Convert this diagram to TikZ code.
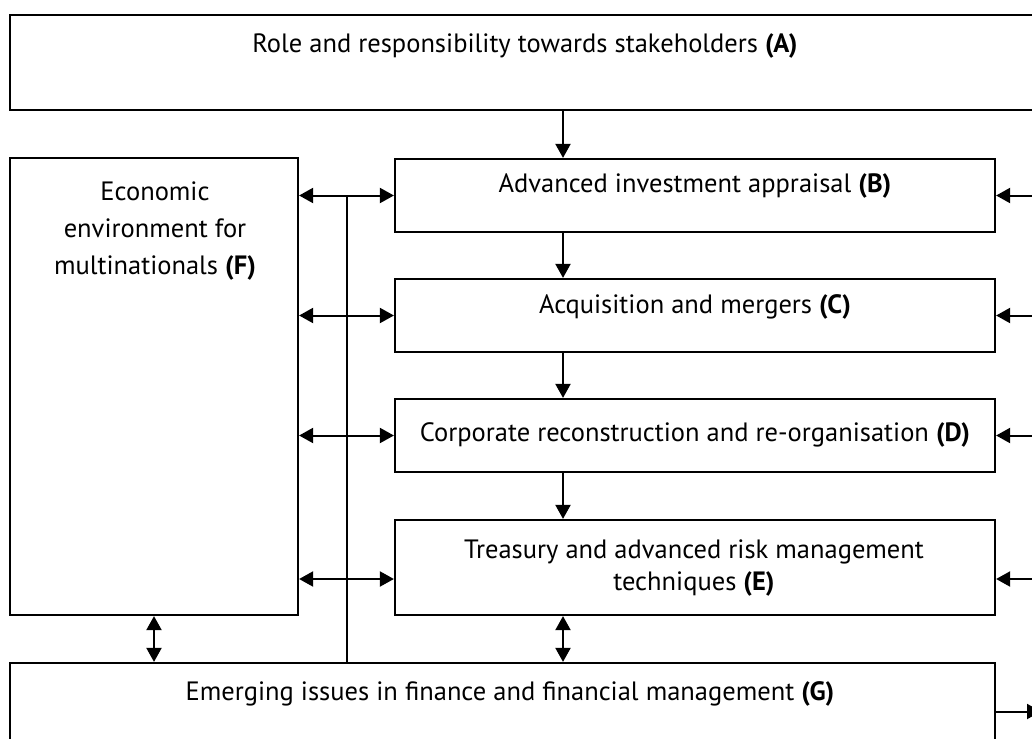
\documentclass[tikz,border=0pt]{standalone}
\usepackage{fontspec}
\setmainfont{PT Sans}
\usetikzlibrary{arrows.meta,calc}
\begin{document}
\begin{tikzpicture}[x=1pt,y=-1pt,
  box/.style={draw,line width=2.2pt,rectangle,inner sep=0pt},
  txt/.style={anchor=base,inner sep=0pt,font=\fontsize{26.5}{35}\selectfont,align=center},
  tip/.tip={Triangle[length=14pt,width=15pt]},
  arr/.style={line width=2pt,-tip},
  darr/.style={line width=2pt,tip-tip},
  ln/.style={line width=2pt}]
\useasboundingbox (0,0) rectangle (1032,738);
% boxes
\node[box,minimum width=1035pt,minimum height=95pt] (A) at (527.5,62.5) {};
\node[box,minimum width=600pt,minimum height=73pt] (B) at (695,195.5) {};
\node[box,minimum width=600pt,minimum height=73pt] (C) at (695,315.5) {};
\node[box,minimum width=600pt,minimum height=73pt] (D) at (695,435.5) {};
\node[box,minimum width=600pt,minimum height=95pt] (E) at (695,567.5) {};
\node[box,minimum width=288pt,minimum height=457pt] (F) at (154,386.5) {};
\node[box,minimum width=985pt,minimum height=97pt] (G) at (502.5,711.5) {};
% texts (multi-line nodes: base = last line)
\node[txt] (tA) at (525,53) {Role and responsibility towards stakeholders \textbf{(A)}};
\node[txt] (tB) at (695,193) {Advanced investment appraisal \textbf{(B)}};
\node[txt] (tC) at (695,313) {Acquisition and mergers \textbf{(C)}};
\node[txt] (tD) at (695,441) {Corporate reconstruction and re-organisation \textbf{(D)}};
\node[txt,font=\fontsize{26.5}{32}\selectfont] (tE) at (694,590) {Treasury and advanced risk management\\techniques \textbf{(E)}};
\node[txt,font=\fontsize{26.5}{37}\selectfont] (tF) at (155,274) {Economic\\environment for\\multinationals \textbf{(F)}};
\node[txt] (tG) at (510,700) {Emerging issues in finance and financial management \textbf{(G)}};
% helper coordinates
\coordinate (cx) at (563,0);
\coordinate (vx) at (347,0);
\coordinate (rx) at (1045,0);
\coordinate (ey) at (0,579);
\coordinate (gout) at (1041,711.5);
% vertical chain
\draw[arr] (A.south -| cx) -- (B.north -| cx);
\draw[arr] (B.south -| cx) -- (C.north -| cx);
\draw[arr] (C.south -| cx) -- (D.north -| cx);
\draw[arr] (D.south -| cx) -- (E.north -| cx);
\draw[darr] (E.south -| cx) -- (G.north -| cx);
\draw[darr] (F.south) -- (F.south |- G.north);
% spine
\draw[ln] (vx |- B.west) -- (vx |- G.north);
% F links
\draw[darr] (F.east |- B.west) -- (B.west);
\draw[darr] (F.east |- C.west) -- (C.west);
\draw[darr] (F.east |- D.west) -- (D.west);
\draw[darr] (F.east |- ey) -- (E.west |- ey);
% right side arrows
\draw[arr] (rx |- B.east) -- (B.east);
\draw[arr] (rx |- C.east) -- (C.east);
\draw[arr] (rx |- D.east) -- (D.east);
\draw[arr] (rx |- ey) -- (E.east |- ey);
\draw[arr] (G.east) -- (gout);
\end{tikzpicture}
\end{document}
